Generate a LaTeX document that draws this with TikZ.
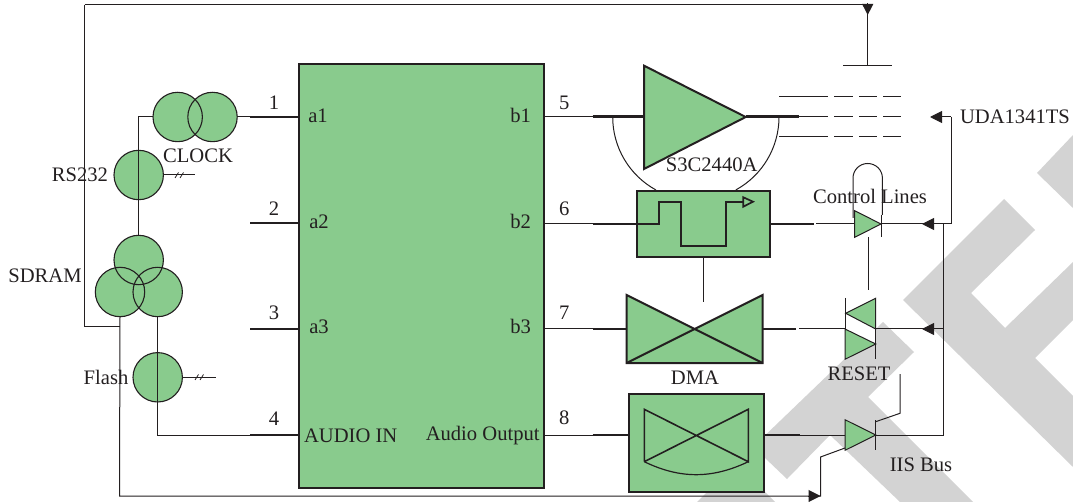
\documentclass[tikz,border=0pt]{standalone}
\usepackage{fontspec}
\setmainfont{Liberation Serif}
\usetikzlibrary{arrows.meta,calc}
\definecolor{G}{HTML}{89CB8D}
\definecolor{K}{HTML}{231F20}
\definecolor{W}{HTML}{D3D3D3}
\tikzset{
  thinw/.style={draw=K,line width=1pt},
  midw/.style={draw=K,line width=1.7pt},
  heavyw/.style={draw=K,line width=3pt},
  edgew/.style={draw=K,line width=2pt},
  disc/.style={circle,fill=G,inner sep=0pt,minimum size=49.4pt},
  ring/.style={thinw,line width=1.1pt},
  lbl/.style={text=K,font=\fontsize{20.6}{22}\selectfont,inner sep=0pt},
  tip/.style={-{Triangle[length=12pt,width=12pt]},thinw},
  boxg/.style={fill=G,edgew,inner sep=0pt,rectangle},
  diode/.style={fill=G,thinw,line join=miter}
}
\begin{document}
\begin{tikzpicture}[x=1pt,y=-1pt]
\useasboundingbox (0,0) rectangle (1073,502);
% watermark
\fill[W] (903,300)--(1004,199)--(1035,230)--(971,293)--(1005,328)--(1073,262)--(1073,320)--(1035,358)--(1073,396)--(1073,467)--cycle;
\fill[W] (1037,173)--(1073,135)--(1073,208)--cycle;
\fill[W] (883,322)--(914,352)--(868,397)--(973,502)--(900,502)--(830,435)--(787,479)--(765,458)--(755,458)--(755,445)--cycle;
\fill[W] (697,502)--(740,460)--(763,490)--(775,502)--cycle;
% main block and other blocks
\node[boxg,minimum width=245pt,minimum height=423.4pt] (main) at (421.8,276) {};
\node[boxg,minimum width=133.6pt,minimum height=66.6pt] (pulse) at (703.5,224) {};
\node[boxg,minimum width=134.7pt,minimum height=97.7pt] (dbox) at (696.3,442.8) {};
% discs
\node[disc] (clockA) at (177.7,117) {};
\node[disc] (clockB) at (212.5,117) {};
\node[disc] (rs) at (138.7,175) {};
\node[disc] (sdT) at (138.7,260) {};
\node[disc] (sdL) at (120,292) {};
\node[disc] (sdR) at (157.7,292) {};
\node[disc] (fl) at (157.7,377.3) {};
\foreach \n/\x/\y in {clockA/177.7/117,clockB/212.5/117,rs/138.7/175,sdT/138.7/260,sdL/120/292,sdR/157.7/292,fl/157.7/377.3}
  \draw[ring] (\x,\y) circle[radius=24.7];
% coordinates
\coordinate (s1) at (250,117); \coordinate (s2) at (250,223);
\coordinate (s3) at (250,329); \coordinate (s4) at (250,435);
\coordinate (r1) at (592.7,117); \coordinate (r2) at (592.7,224);
\coordinate (r3) at (592.7,329); \coordinate (r4) at (592.7,435);
\coordinate (corner) at (138.7,117);
\coordinate (fbL) at (84.7,327);
\coordinate (fbTL) at (84.7,5);
\coordinate (antTop) at (867.7,5);
\coordinate (antTip) at (867.7,15);
\coordinate (antBase) at (867.7,66);
\coordinate (antA) at (843,66); \coordinate (antB) at (892,66);
\coordinate (botL) at (119.5,496);
\coordinate (botTip) at (820.5,496);
\coordinate (iisUp) at (820.5,457);
% triangle amp
\node[inner sep=0pt] (ampIn) at (644,117) {};
\node[inner sep=0pt] (ampOut) at (745.7,117) {};
\filldraw[fill=G,draw=K,line join=miter,line width=2pt] (644,65.7)--(ampOut.center)--(644,169)--cycle;
% DMA bowtie
\coordinate (dmaL) at (626.7,329); \coordinate (dmaR) at (762.7,329);
\filldraw[fill=G,edgew,line join=miter] (626.7,295)--(694.7,329)--(762.7,295)--(762.7,363)--(626.7,363)--cycle;
\draw[edgew] (694.7,329)--(626.7,363) (694.7,329)--(762.7,363);
% inner bowtie
\draw[edgew,line join=miter,line width=1.6pt] (644.3,461.7)--(644.3,409.3)--(748.3,461.7)--(748.3,409.3)--(644.3,461.7);
\draw[thinw,line width=1.2pt] (644.3,461.7) .. controls (680,479) and (712,479) .. (748.3,461.7);
% pulse
\draw[midw,line join=miter] (r2)--(659,224)--(659,201.7)--(681,201.7)--(681,246)--(725.7,246)--(725.7,201.7)--(743.3,201.7);
\draw[midw,line join=miter,fill=G] (743.3,197.3)--(753,201.7)--(743.3,206.7)--cycle;
\draw[midw] (pulse.south)--(703.5,301.7);
% arc
\draw[thinw] (612.7,117) arc[start angle=180,end angle=118.7,x radius=83.2,y radius=83.2];
\draw[thinw] (779,117) arc[start angle=0,end angle=61.3,x radius=83.2,y radius=83.2];
% diodes
\coordinate (dA) at (881,224);
\coordinate (dB) at (875.7,329);
\coordinate (dC) at (875.7,344);
\coordinate (dD) at (875.7,435);
\coordinate (busX) at (943.3,224);
\coordinate (udaX) at (951,224);
\coordinate (udaTip) at (930,117);
\coordinate (udaC) at (951,117);
\filldraw[diode] (854.7,210.7)--(dA)--(854.7,237.3)--cycle;
\fill[white] (845.7,313.3)--(875.7,329)--(875.7,344)--(845,329)--cycle;
\filldraw[diode] (875.7,298.3)--(dB)--(845.7,313.3)--cycle;
\filldraw[diode] (845,329)--(dC)--(845,359.3)--cycle;
\filldraw[diode] (845,419.7)--(dD)--(845,450.3)--cycle;
% diode bars
\draw[thinw] (881.5,215)--(881.5,237);
\draw[thinw] (845,298)--(845,329);
\draw[thinw] (875.7,298)--(875.7,359.3);
\draw[thinw] (875.7,420)--(875.7,450);
% loop
\draw[thinw] (853,218)--(853,178) arc[start angle=180,end angle=0,x radius=14.7,y radius=-14.5]--(882.4,215);
\draw[thinw] (868.3,237)--(868.3,290);
% connectors
\draw[thinw] (fbTL)--(antTop);
\draw[thinw] (sdL.south |- fbL)--(fbL)--(fbTL);
\draw[thinw] (sdL.south)--(botL)--(botTip)--(iisUp)--(845,448);
\draw[tip] (808,496)--(botTip);
\draw[tip,-{Triangle[length=11pt,width=11pt]}] (867.7,3.5)--(antTip);
\draw[thinw] (antTop)--(antBase);
\draw[thinw] (antA)--(antB);
% left side
\draw[thinw] (clockA.west)--(corner)--(sdT.north);
\draw[thinw] (clockB.east)--(s1);
\draw[thinw] (rs.east)--(195,175);
\draw[thinw,line width=.8pt] (175,178)--(178.5,172.5) (180,178)--(183.5,172.5);
\draw[thinw] (fl.east)--(216,377.3);
\draw[thinw,line width=.8pt] (195,380)--(198.5,374.5) (200,380)--(203.5,374.5);
\draw[thinw] (sdR.south)--(fl.north)--(fl.south)--(157.7,435)--(s4);
\draw[midw] (s1)--(s1 -| main.west);
\draw[midw] (s2)--(s2 -| main.west);
\draw[midw] (s3)--(s3 -| main.west);
\draw[midw] (s4)--(s4 -| main.west);
% right of main
\draw[thinw] (r1 -| main.east)--(r1);
\draw[thinw] (r2 -| main.east)--(r2);
\draw[thinw] (r3 -| main.east)--(r3);
\draw[thinw] (r4 -| main.east)--(r4);
\draw[heavyw] (r1)--(ampIn.center);
\draw[midw] (r3)--(dmaL);
\draw[midw] (r4)--(r4 -| dbox.west);
\draw[heavyw] (ampOut.center)--(799,117);
\draw[midw] (pulse.east)--(814,224);
\draw[midw] (dmaR)--(796,329);
\draw[midw] (dbox.east |- r4)--(800,435);
\draw[thinw] (816,224)--(854.7,224);
\draw[thinw] (799,329)--(845,329);
\draw[thinw] (800,435)--(845,435);
% dashed trio
\foreach \y in {97,117,137}{
  \draw[thinw] (799,\y)--(828,\y);
  \draw[thinw] (834,\y)--(852.7,\y) (859,\y)--(877,\y) (883,\y)--(901,\y);
}
\draw[thinw] (779,97)--(799,97) (779,137)--(799,137);
% right bus
\draw[thinw] (dA)--(udaX)--(udaC);
\draw[tip] (udaC)--(udaTip);
\draw[tip] (busX)--(922,224);
\draw[thinw] (busX)--(943.3,435)--(dD);
\draw[thinw] (dB)--(943.3,329);
\draw[tip] (943.3,329)--(922,329);
\draw[thinw] (875.7,421.7)--(900,413.3)--(900,374);
% labels
\node[lbl] (tclock) at (198,156) {CLOCK};
\node[lbl] (trs) at (80,174.5) {RS232};
\node[lbl] (tsd) at (45,276) {SDRAM};
\node[lbl] (tfl) at (106,377) {Flash};
\node[lbl] (ts3) at (711.7,164.5) {S3C2440A};
\node[lbl] (tcl) at (870,196.7) {Control Lines};
\node[lbl] (tuda) at (1015,116.7) {UDA1341TS};
\node[lbl] (tdma) at (695,377.7) {DMA};
\node[lbl] (trst) at (859,373.3) {RESET};
\node[lbl] (tiis) at (921,464.3) {IIS Bus};
\node[lbl] (ta1) at (318,115.7) {a1};
\node[lbl] (ta2) at (319,221.7) {a2};
\node[lbl] (ta3) at (319,326.7) {a3};
\node[lbl] (tb1) at (520.7,115) {b1};
\node[lbl] (tb2) at (520.7,221) {b2};
\node[lbl] (tb3) at (520.7,326) {b3};
\node[lbl] (taudi) at (350.7,436) {AUDIO IN};
\node[lbl] (tauo) at (482.7,436) {Audio Output};
\node[lbl] (n1) at (274,102.7) {1};
\node[lbl] (n2) at (274,208.7) {2};
\node[lbl] (n3) at (274,313) {3};
\node[lbl] (n4) at (274,419) {4};
\node[lbl] (n5) at (564.3,102.7) {5};
\node[lbl] (n6) at (564.3,208.7) {6};
\node[lbl] (n7) at (564.3,313) {7};
\node[lbl] (n8) at (564.3,418) {8};
\end{tikzpicture}
\end{document}
